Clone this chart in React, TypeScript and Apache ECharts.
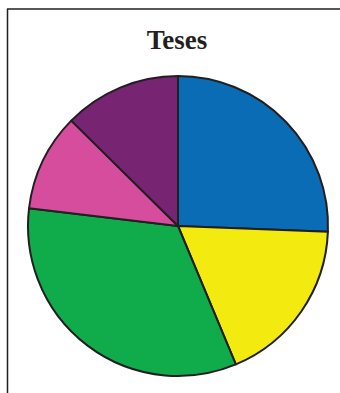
import React, { useEffect, useRef } from "react";
import * as echarts from "echarts";

const categories = ["A", "B", "C", "D", "E"];
const values = [25.6, 18.1, 33.2, 10.5, 12.6];
const colors = ["#0a6cb5", "#f3ea10", "#10ab4b", "#d64d9e", "#772473"];
const titleText = "Teses";

export default function App() {
  const ref = useRef<HTMLDivElement>(null);
  useEffect(() => {
    if (!ref.current) return;
    const chart = echarts.init(ref.current, null, { renderer: "svg" });
    chart.setOption({
      animation: false,
      backgroundColor: "#ffffff",
      graphic: [
        {
          type: "line",
          shape: { x1: 7, y1: 9, x2: 340, y2: 9 },
          style: { stroke: "#231f20", lineWidth: 1.5 },
        },
        {
          type: "line",
          shape: { x1: 7.5, y1: 9, x2: 7.5, y2: 393 },
          style: { stroke: "#231f20", lineWidth: 1.5 },
        },
        {
          type: "text",
          x: 177,
          y: 26,
          style: {
            text: titleText,
            align: "center",
            verticalAlign: "top",
            fontFamily: "Liberation Serif",
            fontWeight: "bold",
            fontSize: 27,
            fill: "#231f20",
          },
        },
      ],
      series: [
        {
          type: "pie",
          center: [178, 226],
          radius: 150,
          startAngle: 90,
          clockwise: true,
          label: { show: false },
          labelLine: { show: false },
          emphasis: { disabled: true },
          itemStyle: { borderColor: "#231f20", borderWidth: 2 },
          data: categories.map((c, i) => ({
            name: c,
            value: values[i],
            itemStyle: { color: colors[i] },
          })),
        },
      ],
    });
    return () => chart.dispose();
  }, []);
  return (
    <div
      ref={ref}
      style={{ position: "fixed", left: 0, top: 0, width: 340, height: 393 }}
    />
  );
}
